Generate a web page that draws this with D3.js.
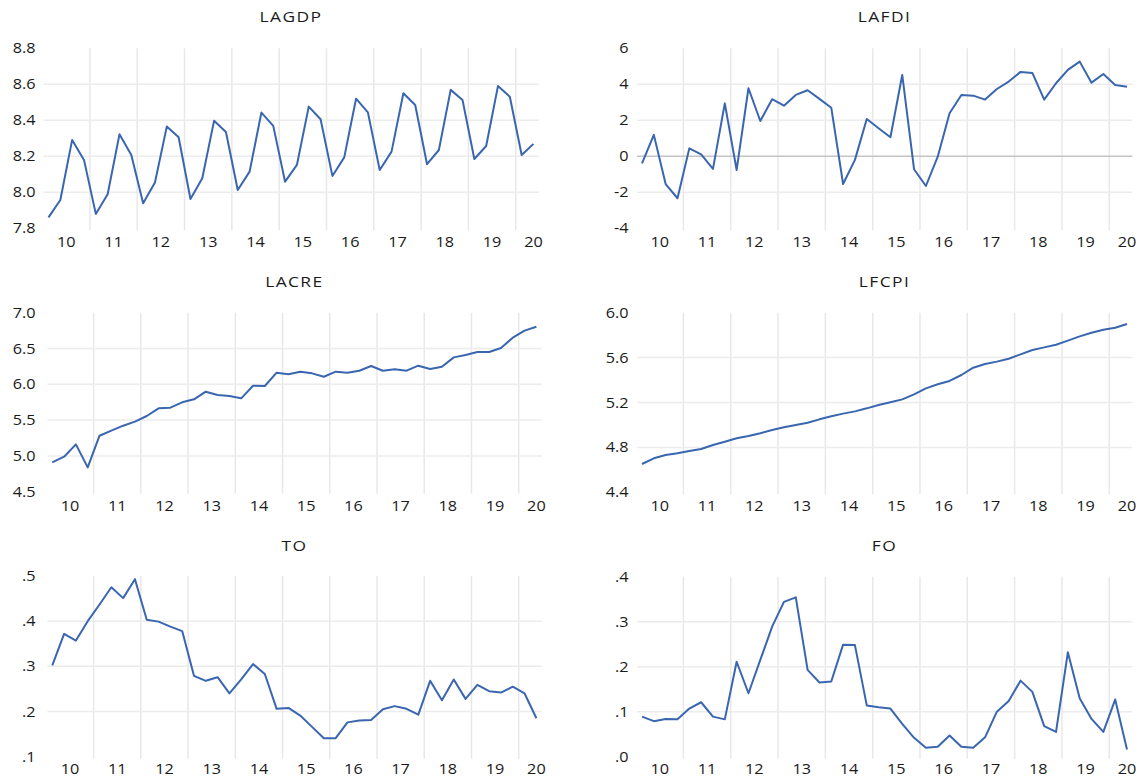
<!DOCTYPE html>
<html><head><meta charset="utf-8">
<script src="https://cdn.jsdelivr.net/npm/d3@7"></script>
<style>body{margin:0;background:#fff}svg{display:block}</style>
</head><body>
<svg id="c" width="1142" height="780"></svg>
<script>
const quarters = ["2010Q1","2010Q2","2010Q3","2010Q4","2011Q1","2011Q2","2011Q3","2011Q4",
"2012Q1","2012Q2","2012Q3","2012Q4","2013Q1","2013Q2","2013Q3","2013Q4",
"2014Q1","2014Q2","2014Q3","2014Q4","2015Q1","2015Q2","2015Q3","2015Q4",
"2016Q1","2016Q2","2016Q3","2016Q4","2017Q1","2017Q2","2017Q3","2017Q4",
"2018Q1","2018Q2","2018Q3","2018Q4","2019Q1","2019Q2","2019Q3","2019Q4",
"2020Q1","2020Q2"];
const yearLabels = ["10","11","12","13","14","15","16","17","18","19","20"];

const lagdp = [7.861,7.957,8.291,8.180,7.880,7.989,8.322,8.207,7.939,8.054,8.365,8.306,
7.963,8.078,8.398,8.335,8.013,8.115,8.443,8.369,8.059,8.152,8.476,8.406,8.091,8.194,8.520,8.444,
8.124,8.226,8.550,8.485,8.156,8.235,8.569,8.513,8.185,8.257,8.591,8.531,8.207,8.269];
const lafdi = [-0.39,1.19,-1.54,-2.33,0.44,0.11,-0.70,2.94,-0.76,3.78,1.96,3.17,2.81,3.41,3.67,3.19,
2.70,-1.54,-0.20,2.07,1.56,1.06,4.52,-0.72,-1.65,-0.02,2.39,3.41,3.37,3.15,3.74,4.15,4.69,4.63,
3.15,4.06,4.80,5.26,4.09,4.57,3.96,3.87];
const lacre = [4.910,4.989,5.161,4.840,5.282,5.352,5.422,5.478,5.557,5.664,5.673,5.748,5.790,5.897,
5.850,5.836,5.804,5.980,5.976,6.162,6.139,6.176,6.153,6.106,6.176,6.162,6.190,6.255,6.190,6.209,
6.190,6.260,6.213,6.246,6.376,6.409,6.451,6.451,6.507,6.651,6.749,6.804];
const lfcpi = [4.652,4.703,4.733,4.747,4.768,4.786,4.822,4.851,4.881,4.902,4.926,4.955,4.979,5.000,
5.020,5.050,5.077,5.101,5.121,5.148,5.178,5.202,5.228,5.273,5.326,5.362,5.392,5.445,5.510,5.543,
5.564,5.590,5.629,5.668,5.691,5.715,5.751,5.789,5.822,5.848,5.866,5.899];
const to = [0.302,0.372,0.357,0.400,0.437,0.475,0.451,0.493,0.403,0.399,0.388,0.378,0.279,0.268,
0.276,0.240,0.271,0.305,0.283,0.206,0.208,0.191,0.166,0.141,0.141,0.176,0.180,0.181,0.205,0.212,
0.206,0.193,0.268,0.225,0.271,0.228,0.259,0.245,0.242,0.255,0.240,0.185];
const fo = [0.089,0.079,0.084,0.083,0.107,0.121,0.089,0.083,0.211,0.141,0.215,0.289,0.344,0.354,
0.193,0.165,0.167,0.249,0.248,0.114,0.110,0.107,0.073,0.042,0.020,0.022,0.047,0.022,0.020,0.043,
0.100,0.124,0.169,0.144,0.068,0.055,0.232,0.130,0.084,0.055,0.127,0.016];

const lagdpTicks = [7.8,8.0,8.2,8.4,8.6,8.8];
const lagdpTickText = ["7.8","8.0","8.2","8.4","8.6","8.8"];
const lafdiTicks = [-4,-2,0,2,4,6];
const lafdiTickText = ["-4","-2","0","2","4","6"];
const lacreTicks = [4.5,5.0,5.5,6.0,6.5,7.0];
const lacreTickText = ["4.5","5.0","5.5","6.0","6.5","7.0"];
const lfcpiTicks = [4.4,4.8,5.2,5.6,6.0];
const lfcpiTickText = ["4.4","4.8","5.2","5.6","6.0"];
const toTicks = [0.1,0.2,0.3,0.4,0.5];
const toTickText = [".1",".2",".3",".4",".5"];
const foTicks = [0.0,0.1,0.2,0.3,0.4];
const foTickText = [".0",".1",".2",".3",".4"];

const panels = [
 {title:"LAGDP", values:lagdp, ticks:lagdpTicks, tickText:lagdpTickText, x0:48.5, x1:533.5, yTop:48.3, yBot:228.3, labR:35.5, tBase:22.3, xBase:247},
 {title:"LAFDI", values:lafdi, ticks:lafdiTicks, tickText:lafdiTickText, x0:642, x1:1127, yTop:48.3, yBot:228.3, labR:628.5, tBase:22.3, xBase:247, zero:true},
 {title:"LACRE", values:lacre, ticks:lacreTicks, tickText:lacreTickText, x0:52.3, x1:536.4, yTop:312.7, yBot:491.7, labR:35.5, tBase:286.5, xBase:510.7},
 {title:"LFCPI", values:lfcpi, ticks:lfcpiTicks, tickText:lfcpiTickText, x0:642, x1:1127, yTop:312.7, yBot:492.3, labR:628.5, tBase:286.5, xBase:510.7},
 {title:"TO", values:to, ticks:toTicks, tickText:toTickText, x0:52.3, x1:536.4, yTop:576, yBot:756.7, labR:35.5, tBase:550.7, xBase:774},
 {title:"FO", values:fo, ticks:foTicks, tickText:foTickText, x0:642, x1:1127, yTop:576.7, yBot:756.7, labR:628.5, tBase:550.7, xBase:774}
];

const svg = d3.select("#c");
const FONT = "'Open Sans', 'Noto Sans', sans-serif";
const SX = 1.16;

panels.forEach(p => {
  const g = svg.append("g");
  const n = p.values.length;
  const x = d3.scaleLinear().domain([0, n - 1]).range([p.x0, p.x1]);
  const y = d3.scaleLinear().domain([d3.min(p.ticks), d3.max(p.ticks)]).range([p.yBot, p.yTop]);

  // vertical grid at year boundaries
  const bounds = d3.range(3.5, n - 1, 4);
  g.selectAll(".vg").data(bounds).join("line")
    .attr("x1", d => x(d)).attr("x2", d => x(d))
    .attr("y1", p.yTop).attr("y2", p.yBot + 2)
    .attr("stroke", "#e8e8e8").attr("stroke-width", 1.5);

  // horizontal grid
  const inner = p.ticks.slice(1, -1);
  g.selectAll(".hg").data(inner).join("line")
    .attr("x1", x(-0.42)).attr("x2", x(n - 1 + 0.46))
    .attr("y1", d => y(d)).attr("y2", d => y(d))
    .attr("stroke", d => (p.zero && d === 0) ? "#c4c4c4" : "#ececec")
    .attr("stroke-width", 1.5);

  // y labels
  g.selectAll(".yl").data(p.ticks).join("text")
    .attr("transform", d => `translate(${p.labR},${y(d)}) scale(${SX},1)`)
    .attr("text-anchor", "end").attr("dy", "0.36em")
    .attr("font-family", FONT).attr("font-size", 14).attr("fill", "#1a1a1a")
    .text((d, i) => p.tickText[i]);

  // x labels (year centres)
  g.selectAll(".xl").data(yearLabels).join("text")
    .attr("transform", (d, i) => `translate(${x(Math.min(i * 4 + 1.5, n - 1))},${p.xBase}) scale(${SX},1)`)
    .attr("text-anchor", "middle")
    .attr("font-family", FONT).attr("font-size", 14).attr("fill", "#1a1a1a")
    .text(d => d);

  // title
  g.append("text")
    .attr("transform", `translate(${(p.x0 + p.x1) / 2},${p.tBase}) scale(${SX},1)`)
    .attr("text-anchor", "middle")
    .attr("font-family", FONT).attr("font-size", 15).attr("letter-spacing", "1.2px").attr("fill", "#1a1a1a")
    .text(p.title);

  // series line
  const line = d3.line().x((d, i) => x(i)).y(d => y(d));
  g.append("path").datum(p.values)
    .attr("d", line).attr("fill", "none")
    .attr("stroke", "#3a66b0").attr("stroke-width", 2).attr("stroke-linejoin", "round");
});
</script>
</body></html>
